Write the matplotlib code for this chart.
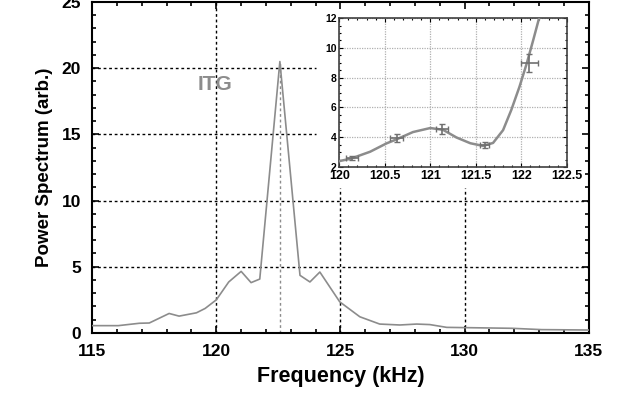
import numpy as np
import matplotlib
matplotlib.use('Agg')
import matplotlib.pyplot as plt
from matplotlib.ticker import MultipleLocator

plt.rcParams.update({'font.family':['Liberation Sans','DejaVu Sans'],'font.weight':'bold'})

# main spectrum (kHz, arb.)
freq=[115.0,116.05,116.9,117.3,118.1,118.5,119.2,119.55,120.0,120.5,121.0,121.4,121.75,
      122.56,123.37,123.77,124.17,124.97,125.78,126.58,127.39,128.07,128.6,129.28,131.9,133.1,135.0]
power=[0.55,0.55,0.73,0.75,1.47,1.27,1.52,1.85,2.5,3.85,4.65,3.8,4.07,
       20.5,4.35,3.85,4.6,2.35,1.22,0.67,0.6,0.67,0.63,0.42,0.35,0.25,0.22]
peak_f,peak_p=122.56,20.5

# inset: fitted curve + measured points
fit_f=[120.0,120.12,120.34,120.52,120.63,120.81,121.0,121.14,121.29,121.44,121.58,121.69,
       121.8,121.89,121.98,122.06,122.13,122.2]
fit_p=[2.4,2.55,3.03,3.59,3.86,4.35,4.62,4.5,3.98,3.6,3.42,3.62,4.48,5.83,7.39,8.96,10.5,12.1]
pt_f=[120.14,120.63,121.13,121.6,122.09]
pt_p=[2.6,3.95,4.55,3.45,8.97]
pt_xerr=[0.07,0.07,0.07,0.05,0.09]
pt_yerr=[0.12,0.3,0.35,0.2,0.6]

GREY='#8c8c8c'
fig=plt.figure(figsize=(6.27,3.94),dpi=100)
ax=fig.add_axes([0.147,0.155,0.792,0.840])
ax.plot(freq,power,color=GREY,lw=1.2,zorder=3)
ax.set_xlim(115,135); ax.set_ylim(0,25)
ax.xaxis.set_major_locator(MultipleLocator(5)); ax.xaxis.set_minor_locator(MultipleLocator(1))
ax.yaxis.set_major_locator(MultipleLocator(5)); ax.yaxis.set_minor_locator(MultipleLocator(1))
ax.tick_params(which='both',direction='in',top=True,right=True,width=1.2)
ax.tick_params(which='major',length=5,labelsize=12.5,pad=8)
ax.tick_params(which='minor',length=3)
for s in ax.spines.values(): s.set_linewidth(1.5)

# grid (partly hidden behind the inset)
gkw=dict(color='black',lw=1.0,ls=(0,(2,2)),zorder=1)
ax.axhline(20,xmax=0.45,**gkw); ax.axhline(15,xmax=0.45,**gkw)
ax.axhline(10,**gkw); ax.axhline(5,**gkw)
ax.axvline(120,**gkw)
ax.axvline(125,ymax=0.438,**gkw); ax.axvline(130,ymax=0.438,**gkw)
ax.plot([peak_f,peak_f],[0,peak_p],color=GREY,lw=1.0,ls=(0,(2,2)),zorder=2)

ax.text(119.95,18.75,'ITG',color=GREY,fontsize=15,fontweight='bold',ha='center',va='center')
ax.set_xlabel('Frequency (kHz)',fontsize=15.5,fontweight='bold',labelpad=5)
ax.set_ylabel('Power Spectrum (arb.)',fontsize=13.5,fontweight='bold',labelpad=6)

ins=fig.add_axes([0.541,0.576,0.363,0.378])
ins.plot(fit_f,fit_p,color=GREY,lw=1.8,zorder=3)
ins.errorbar(pt_f,pt_p,xerr=pt_xerr,yerr=pt_yerr,fmt='none',ecolor='#707070',elinewidth=1.2,capsize=2,zorder=4)
ins.set_xlim(120,122.5); ins.set_ylim(2,12)
ins.xaxis.set_major_locator(MultipleLocator(0.5)); ins.xaxis.set_minor_locator(MultipleLocator(0.1))
ins.yaxis.set_major_locator(MultipleLocator(2)); ins.yaxis.set_minor_locator(MultipleLocator(0.5))
ins.set_xticklabels(['120','120.5','121','121.5','122','122.5'],fontsize=9.5)
ins.set_xticks([120,120.5,121,121.5,122,122.5])
ins.tick_params(which='both',direction='in',top=True,right=True,width=0.8)
ins.tick_params(which='major',length=3,pad=2,labelsize=9)
ins.tick_params(axis='y',labelsize=7.5)
ins.tick_params(which='minor',length=1.5)
ins.grid(True,color='#b0b0b0',ls=(0,(1,1)),lw=0.9)
ins.set_axisbelow(True)
for s in ins.spines.values(): s.set_linewidth(1.2); s.set_color('#404040')

fig.savefig('out.png',dpi=100)
